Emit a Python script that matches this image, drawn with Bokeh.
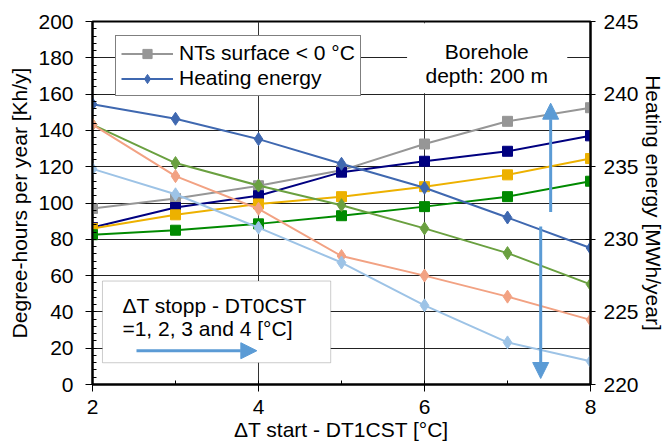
from bokeh.plotting import figure
from bokeh.models import (Range1d, LinearAxis, SingleIntervalTicker, Legend, LegendItem,
                          BoxAnnotation, Label, Arrow, NormalHead)
from bokeh.embed import file_html
from bokeh.resources import INLINE

# ---- data ----
x_vals = [2, 3, 4, 5, 6, 7, 8]
nts_gray = [97, 102.5, 109.5, 118, 132.5, 145, 152.5]
nts_navy = [86.5, 97.5, 104, 117, 123, 128.5, 137]
nts_gold = [86, 93.5, 99.5, 103.5, 109, 115.5, 124.5]
nts_green = [82.5, 85, 88.5, 93, 98, 103.5, 112]
heat_steel = [239.3, 238.3, 236.9, 235.2, 233.55, 231.5, 229.4]
heat_olive = [237.9, 235.25, 233.7, 232.35, 230.75, 229.05, 226.9]
heat_salmon = [237.9, 234.35, 232.1, 228.85, 227.5, 226.05, 224.45]
heat_lightblue = [234.85, 233.1, 230.8, 228.4, 225.45, 222.9, 221.6]

FONT = "Liberation Sans"
FS = "21px"

p = figure(width=667, height=443, output_backend="svg", toolbar_location=None,
           x_range=Range1d(2, 8), y_range=Range1d(0, 200),
           min_border_left=92, min_border_right=75, min_border_top=21, min_border_bottom=57)
p.extra_y_ranges = {"right": Range1d(220, 245)}

p.outline_line_color = "black"
p.outline_line_width = 2
p.background_fill_color = "white"
p.border_fill_color = "white"

# axes
xa = p.xaxis[0]
xa.ticker = SingleIntervalTicker(interval=2, num_minor_ticks=2)
xa.axis_label = "ΔT start - DT1CST [°C]"
ya = p.yaxis[0]
ya.ticker = SingleIntervalTicker(interval=20, num_minor_ticks=5)
ya.axis_label = "Degree-hours per year [Kh/y]"

ra = LinearAxis(y_range_name="right", ticker=SingleIntervalTicker(interval=5, num_minor_ticks=0),
                axis_label="Heating energy [MWh/year]")
p.add_layout(ra, "right")

for ax in (xa, ya, ra):
    ax.axis_line_color = "black"
    ax.axis_line_width = 2
    ax.major_tick_line_color = "black"
    ax.minor_tick_line_color = "black"
    ax.major_label_text_font = FONT
    ax.major_label_text_font_size = FS
    ax.major_label_text_color = "black"
    ax.axis_label_text_font = FONT
    ax.axis_label_text_font_size = FS
    ax.axis_label_text_font_style = "normal"
    ax.axis_label_text_color = "black"
    ax.major_tick_in = 0
    ax.major_tick_out = 7
    ax.minor_tick_in = 4
    ax.minor_tick_out = 0

xa.major_label_standoff = 8
xa.axis_label_standoff = 1
ya.major_label_standoff = 12
ya.axis_label_standoff = 4
ra.major_tick_in = 5
ra.major_tick_out = 5
ra.major_label_standoff = 8
ra.axis_label_standoff = 0

p.xgrid.grid_line_color = "#333333"
p.xgrid.grid_line_width = 1
p.ygrid.grid_line_color = "#222222"
p.ygrid.grid_line_width = 1

# ---- series ----
sq_series = [(nts_gray, "#969696"), (nts_navy, "#000080"), (nts_gold, "#edb100"), (nts_green, "#008a00")]
dm_series = [(heat_steel, "#3f68b0"), (heat_olive, "#6aa040"), (heat_salmon, "#f2a283"), (heat_lightblue, "#9dc3e6")]

legend_renderers = []
for vals, col in sq_series:
    l = p.line(x_vals, vals, line_color=col, line_width=2)
    s = p.scatter(x_vals, vals, marker="square", size=10, fill_color=col, line_color=col)
    legend_renderers.append([l, s])
for vals, col in dm_series:
    l = p.line(x_vals, vals, line_color=col, line_width=2, y_range_name="right")
    s = p.scatter(x_vals, vals, marker="diamond", size=13, fill_color=col, line_color=col,
                  y_range_name="right")
    legend_renderers.append([l, s])

# ---- annotations ----
p.add_layout(BoxAnnotation(left=5.79, right=7.72, bottom=160.5, top=199, fill_color="white",
                           fill_alpha=1, line_alpha=0))
p.add_layout(Label(x=6.75, y=183.5, text="Borehole", text_align="center", text_baseline="middle",
                   text_font=FONT, text_font_size=FS, text_color="black"))
p.add_layout(Label(x=6.75, y=170, text="depth: 200 m", text_align="center", text_baseline="middle",
                   text_font=FONT, text_font_size=FS, text_color="black"))

p.add_layout(BoxAnnotation(left=2.12, right=4.87, bottom=12, top=57, fill_color="white",
                           fill_alpha=1, line_color="#555555", line_width=1))
p.add_layout(Label(x=2.36, y=43.8, text="ΔT stopp - DT0CST", text_align="left", text_baseline="middle",
                   text_font=FONT, text_font_size=FS, text_color="black"))
p.add_layout(Label(x=2.36, y=30.7, text="=1, 2, 3 and 4 [°C]", text_align="left", text_baseline="middle",
                   text_font=FONT, text_font_size=FS, text_color="black"))

ARROW = "#5b9bd5"
def head():
    return NormalHead(size=16, fill_color=ARROW, line_color=ARROW)
p.add_layout(Arrow(end=head(), x_start=2.53, y_start=18.6, x_end=3.98, y_end=18.6,
                   line_color=ARROW, line_width=3))
p.add_layout(Arrow(end=head(), x_start=7.52, y_start=95, x_end=7.52, y_end=155,
                   line_color=ARROW, line_width=3))
p.add_layout(Arrow(end=head(), x_start=7.40, y_start=87, x_end=7.40, y_end=3.3,
                   line_color=ARROW, line_width=3))

legend = Legend(items=[LegendItem(label="NTs surface < 0 °C", renderers=legend_renderers[0]),
                       LegendItem(label="Heating energy", renderers=legend_renderers[4])],
                location=(23, 288))
legend.label_text_font = FONT
legend.label_text_font_size = FS
legend.label_text_color = "black"
legend.glyph_width = 52
legend.glyph_height = 23
legend.label_height = 23
legend.spacing = 1
legend.padding = 5
legend.margin = 0
legend.label_standoff = 6
legend.border_line_color = "black"
legend.border_line_width = 1
legend.background_fill_color = "white"
legend.background_fill_alpha = 1
p.add_layout(legend, "center")

open("out.html", "w").write(file_html(p, INLINE))
